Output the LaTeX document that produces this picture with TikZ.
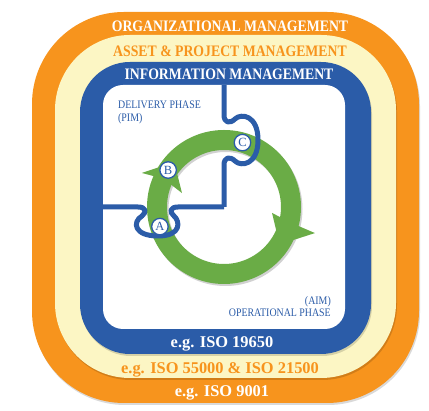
\documentclass[tikz,border=0pt]{standalone}
\usepackage{fontspec}
\setmainfont{Liberation Serif}
\newfontfamily\headfont{Liberation Serif}[FakeStretch=0.86]
\usetikzlibrary{calc}
\definecolor{orng}{RGB}{247,148,29}
\definecolor{crm}{RGB}{252,246,196}
\definecolor{imblue}{RGB}{43,92,168}
\definecolor{cyc}{RGB}{106,172,70}
\begin{document}
\begin{tikzpicture}[x=1pt,y=1pt,
  panel/.style={rounded corners=#1},
  drop/.style={fill=black,opacity=.15,rounded corners=#1},
  head/.style={font=\headfont\bfseries\fontsize{16}{16}\selectfont,anchor=base,inner sep=0pt},
  iso/.style={font=\bfseries\fontsize{16.4}{16.4}\selectfont,anchor=base,inner sep=0pt},
  phase/.style={font=\headfont\fontsize{11.5}{13.5}\selectfont,text=imblue,inner sep=0pt},
  ele/.style={circle,draw=imblue,fill=white,line width=1.3pt,inner sep=0pt,minimum size=16.5pt,font=\fontsize{12.5}{12.5}\selectfont,text=imblue},
  jig/.style={draw=imblue,line width=5pt,line join=round}]
\useasboundingbox (0,0) rectangle (429,411);
\fill[drop=92pt] (33,6) rectangle (420,397);
\fill[orng,panel=92pt] (32,8) rectangle (419,399);
\fill[drop=75pt] (56,31) rectangle (397,374);
\fill[crm,panel=75pt] (55,33) rectangle (396,376);
\fill[drop=50pt] (81,55) rectangle (372,347);
\fill[imblue,panel=50pt] (80,57) rectangle (371,349);
\fill[white,panel=20pt] (103,82) rectangle (345,326);

\node[head,text=white] (org) at (230,379) {ORGANIZATIONAL MANAGEMENT};
\node[head,text=orng] (apm) at (230,354) {ASSET \& PROJECT MANAGEMENT};
\node[head,text=white] (im) at (229,331) {INFORMATION MANAGEMENT};
\node[iso,text=white] (iso1) at (222,63) {e.g. ISO 19650};
\node[iso,text=orng] (iso2) at (220,37) {e.g. ISO 55000 \& ISO 21500};
\node[iso,text=white] (iso3) at (222,14) {e.g. ISO 9001};
\node[phase,anchor=base west] (dp) at (118,302) {DELIVERY PHASE};
\node[phase,anchor=base west] (pim) at (118,289) {(PIM)};
\node[phase,anchor=base east] (aim) at (331,106) {(AIM)};
\node[phase,anchor=base east] (op) at (331,94) {OPERATIONAL PHASE};

\coordinate (ring) at (224,204);
\draw[black,opacity=.18,line width=20pt] ($(ring)+(1.5,-2)$) circle (67);
\draw[cyc,line width=20pt] (ring) circle (67);
\fill[cyc] ($(ring)+(157.5:89)$) -- ($(ring)+(138:67)$) -- ($(ring)+(161.6:44.3)$) -- ($(ring)+(155:67)$) -- cycle;
\fill[cyc] ($(ring)+(-16:94.6)$) -- ($(ring)+(-34:67)$) -- ($(ring)+(-7:48.4)$) -- ($(ring)+(-13:67)$) -- cycle;

\draw[jig] (103,204) -- (138,204) .. controls (146,204) and (147,199) .. (142,195)
  .. controls (132,189) and (134,175) .. (158,175) .. controls (182,175) and (180,190) .. (174,195)
  .. controls (169,199) and (170,204) .. (178,204) -- (ring);
\draw[jig] (ring) -- (224,246) .. controls (224,254) and (230,255) .. (235,250)
  .. controls (241,244) and (258,246) .. (258,271) .. controls (258,296) and (241,298) .. (235,292)
  .. controls (230,287) and (224,288) .. (224,296) -- (224,326);

\node[ele] (a) at ($(ring)+(197:67)$) {A};
\node[ele] (b) at ($(ring)+(146.5:67)$) {B};
\node[ele] (c) at ($(ring)+(74:67)$) {C};
\end{tikzpicture}
\end{document}
